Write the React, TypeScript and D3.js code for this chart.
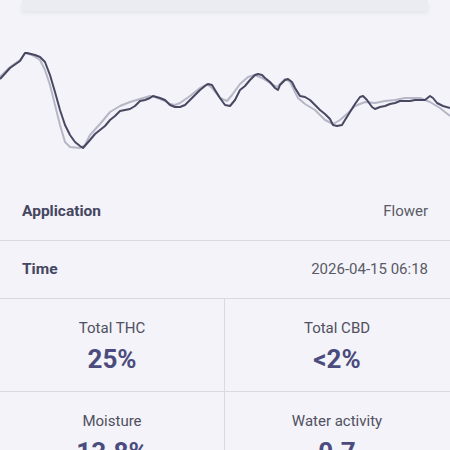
import React from "react";
import * as d3 from "d3";

const darkT = [0,10,20,25,27,35,40,45,50,55,60,65,70,75,80,83,90,95,100,105,110,115,120,125,130,135,140,145,150,153,160,165,170,175,180,185,190,195,200,205,208,212,215,220,225,230,235,240,245,250,255,258,262,265,270,275,278,280,285,288,292,295,300,305,310,315,320,325,330,333,337,342,345,350,355,360,363,367,372,375,380,385,390,395,400,405,410,415,420,425,430,433,437,443,450];
const darkY = [79,68,61,53,53,55,57,62,75,92,110,125,135,142,146,148,140,134,130,126,120,116,111,110,109,106,101,100,98,96,98,100,105,107,107,105,100,95,90,86,84,85,90,98,105,106,100,90,86,80,75,74,75,78,82,88,90,85,80,79,82,88,96,97,100,105,110,114,119,125,126,125,120,112,104,97,96,100,107,109,107,106,104,103,101,101,101,100,100,100,96,98,103,106,108];
const lightT = [0,10,20,25,32,40,45,50,55,60,65,70,80,85,90,100,110,120,130,140,150,155,165,170,175,180,190,200,207,212,220,227,232,240,248,255,262,270,277,285,290,298,305,315,325,333,340,348,355,365,375,385,395,405,415,420,425,430,440,450];
const lightY = [77,67,60,53,55,60,70,85,105,125,142,147,148,145,135,124,112,106,102,99,96,97,101,104,105,103,96,88,84,88,98,101,95,84,77,75,78,83,87,79,82,98,104,110,120,124,120,113,106,102,103,101,100,98,98,98,100,102,108,116];

const rows = [
  { label: "Application", value: "Flower" },
  { label: "Time", value: "2026-04-15 06:18" },
];
const stats = [
  { label: "Total THC", value: "25%" },
  { label: "Total CBD", value: "<2%" },
  { label: "Moisture", value: "13.8%" },
  { label: "Water activity", value: "0.7" },
];

const W = 450, H = 450;
const FONT = "Roboto, 'Noto Sans', sans-serif";

export default function App() {
  const x = d3.scaleLinear().domain([0, 450]).range([0, W]);
  const y = d3.scaleLinear().domain([0, 200]).range([0, 200]);
  const line = d3.line<[number, number]>().x(d => x(d[0])).y(d => y(d[1])).curve(d3.curveLinear);
  const dark = darkT.map((t, i) => [t, darkY[i]] as [number, number]);
  const light = lightT.map((t, i) => [t, lightY[i]] as [number, number]);

  return (
    <svg width={W} height={H} style={{ position: "absolute", left: 0, top: 0, display: "block" }}>
      <defs>
        <filter id="sh" x="-5%" y="-50%" width="110%" height="250%">
          <feGaussianBlur stdDeviation="2" />
        </filter>
      </defs>
      <rect x={0} y={0} width={W} height={H} fill="#f3f3f9" />
      <rect x={22} y={4} width={406} height={9} fill="#e2e2ea" filter="url(#sh)" />
      <rect x={22} y={0} width={406} height={11} fill="#ebebf2" />

      <path d={line(light) || ""} fill="none" stroke="#b6b6c6" strokeWidth={2} strokeLinejoin="round" />
      <path d={line(dark) || ""} fill="none" stroke="#3e3e5a" strokeWidth={2} strokeLinejoin="round" opacity={0.95} />

      {rows.map((r, i) => (
        <g key={r.label}>
          <text x={22} y={216 + i * 58} fontFamily={FONT} fontSize={15.5} fontWeight={700} fill="#45465f">{r.label}</text>
          <text x={428} y={216 + i * 58} textAnchor="end" fontFamily={FONT} fontSize={15} fill="#5a5a66">{r.value}</text>
        </g>
      ))}
      <line x1={0} x2={W} y1={240.5} y2={240.5} stroke="#d9d9e1" strokeWidth={1} />
      <line x1={0} x2={W} y1={298.5} y2={298.5} stroke="#d9d9e1" strokeWidth={1} />
      <line x1={0} x2={W} y1={391.5} y2={391.5} stroke="#d9d9e1" strokeWidth={1} />
      <line x1={224.5} x2={224.5} y1={298} y2={H} stroke="#d9d9e1" strokeWidth={1} />

      {stats.map((s, i) => {
        const cx = i % 2 === 0 ? 112 : 337;
        const top = i < 2 ? 0 : 93;
        return (
          <g key={s.label}>
            <text x={cx} y={333 + top} textAnchor="middle" fontFamily={FONT} fontSize={15} fill="#50505e">{s.label}</text>
            <text x={cx} y={368 + top} textAnchor="middle" fontFamily={FONT} fontSize={26} fontWeight={700} fill="#4b4b7d">{s.value}</text>
          </g>
        );
      })}
    </svg>
  );
}
